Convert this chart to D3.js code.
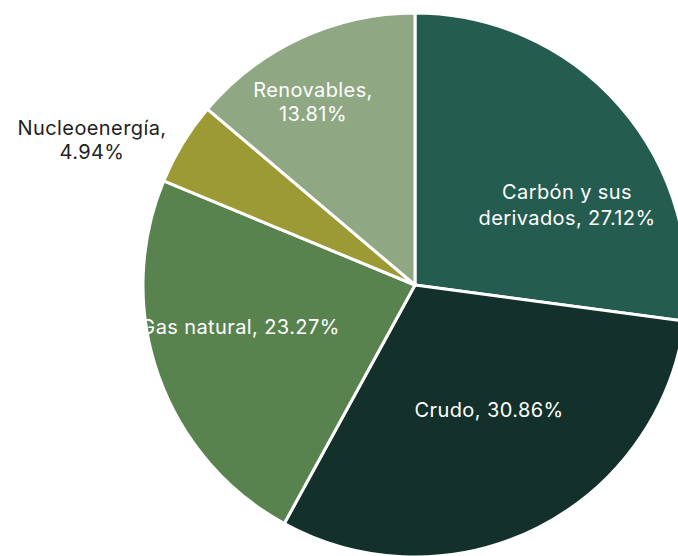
<!DOCTYPE html>
<html>
<head>
<meta charset="utf-8">
<script src="https://cdn.jsdelivr.net/npm/d3@7"></script>
<style>
  body { margin: 0; background: #fff; overflow: hidden; }
  svg text { font-family: Inter, "Open Sans", sans-serif; font-size: 20px; letter-spacing: 0.4px; }
</style>
</head>
<body>
<div id="container"></div>
<script>
const W = 678, H = 556;

// data
const categories = ['Carbón y sus derivados', 'Crudo', 'Gas natural', 'Nucleoenergía', 'Renovables'];
const shares = [27.12, 30.86, 23.27, 4.94, 13.81];
const labelLines = [
    ['Carbón y sus', 'derivados, 27.12%'],
    ['Crudo, 30.86%'],
    ['Gas natural, 23.27%'],
    ['Nucleoenergía,', '4.94%'],
    ['Renovables,', '13.81%']
];

const colors = ['#245c4f', '#13302a', '#58834f', '#9b9a35', '#8fa883'];
const textColors = ['#fff', '#fff', '#fff', '#222', '#fff'];
// label anchor (center of first baseline) relative to pie centre
const labelPos = [[152, -86], [74, 132], [-175, 49], [-323, -150], [-102, -188]];
const lineGap = [26, 24, 24, 24, 24];

const cx = 415, cy = 285, radius = 272;

const data = categories.map((c, i) => ({ name: c, value: shares[i], i: i }));

const svg = d3.select('#container')
    .append('svg')
    .attr('width', W)
    .attr('height', H);

const pie = d3.pie().sort(null).value(d => d.value);
const arc = d3.arc().innerRadius(0).outerRadius(radius);
const color = d3.scaleOrdinal().domain(categories).range(colors);

const g = svg.append('g').attr('transform', 'translate(' + cx + ',' + cy + ')');

g.selectAll('.slice')
    .data(pie(data))
    .enter()
    .append('path')
    .attr('class', 'slice')
    .attr('d', arc)
    .style('fill', d => color(d.data.name))
    .style('stroke', '#fff')
    .style('stroke-width', 3)
    .style('stroke-linejoin', 'round');

const labels = g.selectAll('.label')
    .data(data)
    .enter()
    .append('text')
    .attr('class', 'label')
    .attr('text-anchor', 'middle')
    .style('fill', d => textColors[d.i]);

labels.each(function (d) {
    const t = d3.select(this);
    labelLines[d.i].forEach((line, k) => {
        t.append('tspan')
            .attr('x', labelPos[d.i][0])
            .attr('y', labelPos[d.i][1] + k * lineGap[d.i])
            .text(line);
    });
});
</script>
</body>
</html>
